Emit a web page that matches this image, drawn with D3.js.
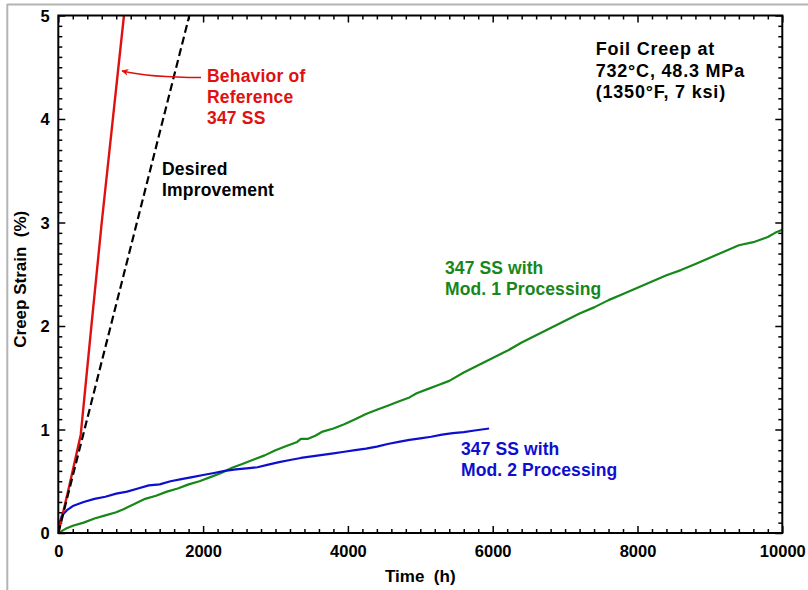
<!DOCTYPE html>
<html>
<head>
<meta charset="utf-8">
<script src="https://cdn.jsdelivr.net/npm/d3@7"></script>
<style>
  html, body { margin: 0; padding: 0; background: #fff; }
  svg { display: block; }
  text { font-family: "Liberation Sans", Arial, Helvetica, sans-serif; font-weight: bold; }
</style>
</head>
<body>
<svg id="chart" width="808" height="590"></svg>
<script>
// ---- Data ----
const referenceTime   = [0, 150, 310, 450, 600, 907];
const referenceStrain = [0, 0.45, 0.95, 1.95, 3.0, 5.0];

const desiredTime   = [0, 1810];
const desiredStrain = [0, 5.0];

const mod1Time = [0,100,200,350,500,650,800,900,1050,1200,1350,1500,1650,1800,1950,2100,2250,2400,2550,2700,2850,3000,3150,3300,3350,3450,3550,3650,3800,3950,4100,4250,4400,4550,4700,4850,4950,5100,5250,5400,5600,5800,6000,6200,6400,6600,6800,7000,7200,7400,7600,7800,8000,8200,8400,8600,8800,9000,9200,9400,9600,9800,9900,10000];
const mod1Strain = [0,0.04,0.07,0.10,0.14,0.17,0.20,0.23,0.28,0.33,0.36,0.40,0.43,0.47,0.50,0.54,0.58,0.63,0.67,0.71,0.75,0.80,0.84,0.88,0.91,0.91,0.94,0.98,1.01,1.05,1.10,1.15,1.19,1.23,1.27,1.31,1.35,1.39,1.43,1.47,1.55,1.62,1.69,1.76,1.84,1.91,1.98,2.05,2.12,2.18,2.25,2.31,2.37,2.43,2.49,2.54,2.60,2.66,2.72,2.78,2.81,2.86,2.90,2.93];

const mod2Time = [0,20,50,120,200,350,500,650,800,950,1100,1250,1400,1550,1700,1850,2000,2150,2300,2450,2600,2750,2900,3050,3200,3350,3500,3650,3800,3950,4100,4250,4400,4550,4700,4850,5000,5150,5300,5450,5600,5750,5950];
const mod2Strain = [0.02,0.10,0.17,0.22,0.26,0.30,0.33,0.35,0.38,0.40,0.43,0.46,0.47,0.50,0.52,0.54,0.56,0.58,0.60,0.615,0.625,0.635,0.66,0.685,0.705,0.725,0.74,0.755,0.77,0.785,0.80,0.815,0.835,0.86,0.88,0.90,0.915,0.93,0.95,0.965,0.975,0.99,1.01];

const xMajorTicks = [0, 2000, 4000, 6000, 8000, 10000];
const yMajorTicks = [0, 1, 2, 3, 4, 5];
const xTitle = "Time  (h)";
const yTitle = "Creep Strain  (%)";

// ---- Layout ----
const svg = d3.select("#chart");
const pLeft = 58.3, pRight = 782.3, pTop = 15.5, pBottom = 533;

const x = d3.scaleLinear().domain([0, 10000]).range([pLeft, pRight]);
const y = d3.scaleLinear().domain([0, 5]).range([pBottom, pTop]);

// grey page frame (top and left only)
svg.append("line").attr("x1", 7).attr("x2", 808).attr("y1", 4.5).attr("y2", 4.5)
  .attr("stroke", "#b4b4b4").attr("stroke-width", 2);
svg.append("line").attr("x1", 7.3).attr("x2", 7.3).attr("y1", 4).attr("y2", 590)
  .attr("stroke", "#b4b4b4").attr("stroke-width", 2);

const xMinor = d3.range(0, 10001, 200).filter(v => v % 2000 !== 0);
const yMinor = d3.range(0, 51, 1).map(v => v / 10).filter(v => Math.abs(v - Math.round(v)) > 1e-6);

function styleAxis(g) {
  g.select(".domain").remove();
  g.selectAll(".tick line").attr("stroke", "#000").attr("stroke-width", 1.5);
}

// minor ticks
svg.append("g").attr("transform", `translate(0,${pBottom})`)
  .call(d3.axisBottom(x).tickValues(xMinor).tickSize(-4).tickFormat(""))
  .call(styleAxis);
svg.append("g").attr("transform", `translate(0,${pTop})`)
  .call(d3.axisTop(x).tickValues(xMinor).tickSize(-4).tickFormat(""))
  .call(styleAxis);
svg.append("g").attr("transform", `translate(${pLeft},0)`)
  .call(d3.axisLeft(y).tickValues(yMinor).tickSize(-4).tickFormat(""))
  .call(styleAxis);
svg.append("g").attr("transform", `translate(${pRight},0)`)
  .call(d3.axisRight(y).tickValues(yMinor).tickSize(-4).tickFormat(""))
  .call(styleAxis);

// major ticks
const xb = svg.append("g").attr("transform", `translate(0,${pBottom})`)
  .call(d3.axisBottom(x).tickValues(xMajorTicks).tickSize(-7).tickPadding(0).tickFormat(d3.format("d")))
  .call(styleAxis);
xb.selectAll(".tick text").attr("y", 23.7).attr("dy", 0)
  .attr("fill", "#000").style("font-size", "16.5px").style("font-family", "Liberation Sans, Arial, sans-serif").style("font-weight", "bold");

svg.append("g").attr("transform", `translate(0,${pTop})`)
  .call(d3.axisTop(x).tickValues(xMajorTicks).tickSize(-7).tickFormat(""))
  .call(styleAxis);

const yl = svg.append("g").attr("transform", `translate(${pLeft},0)`)
  .call(d3.axisLeft(y).tickValues(yMajorTicks).tickSize(-7).tickFormat(d3.format("d")))
  .call(styleAxis);
yl.selectAll(".tick text").attr("x", -8.5).attr("dy", "0.36em")
  .attr("fill", "#000").style("font-size", "16.5px").style("font-family", "Liberation Sans, Arial, sans-serif").style("font-weight", "bold");

svg.append("g").attr("transform", `translate(${pRight},0)`)
  .call(d3.axisRight(y).tickValues(yMajorTicks).tickSize(-7).tickFormat(""))
  .call(styleAxis);

// clip
const defs = svg.append("defs");
defs.append("clipPath").attr("id", "plotclip")
  .append("rect").attr("x", pLeft).attr("y", pTop).attr("width", pRight - pLeft).attr("height", pBottom - pTop);

const line = d3.line().x(d => x(d[0])).y(d => y(d[1]));
const zipper = (a, b) => a.map((v, i) => [v, b[i]]);

const plot = svg.append("g").attr("clip-path", "url(#plotclip)");

plot.append("path").datum(zipper(mod1Time, mod1Strain))
  .attr("d", line).attr("fill", "none").attr("stroke", "#17871a").attr("stroke-width", 2.2)
  .attr("stroke-linejoin", "round");
plot.append("path").datum(zipper(mod2Time, mod2Strain))
  .attr("d", line).attr("fill", "none").attr("stroke", "#0e0ed0").attr("stroke-width", 2.2)
  .attr("stroke-linejoin", "round");
plot.append("path").datum(zipper(referenceTime, referenceStrain))
  .attr("d", line).attr("fill", "none").attr("stroke", "#e01010").attr("stroke-width", 2.4)
  .attr("stroke-linejoin", "round");
plot.append("path").datum(zipper(desiredTime, desiredStrain))
  .attr("d", line).attr("fill", "none").attr("stroke", "#000").attr("stroke-width", 2.2)
  .attr("stroke-dasharray", "8,4");

// frame
svg.append("rect").attr("x", pLeft).attr("y", pTop).attr("width", pRight - pLeft).attr("height", pBottom - pTop)
  .attr("fill", "none").attr("stroke", "#000").attr("stroke-width", 2);

// axis titles
svg.append("text").attr("x", (pLeft + pRight) / 2).attr("y", 581.7).attr("text-anchor", "middle")
  .style("font-size", "17px").style("white-space", "pre").attr("fill", "#000").text(xTitle);
svg.append("text").attr("transform", `translate(25.5,${(pTop + pBottom) / 2 + 5}) rotate(-90)`)
  .attr("text-anchor", "middle").style("font-size", "17px").style("white-space", "pre").attr("fill", "#000")
  .text(yTitle);

// annotations
function multi(lines, x0, y0, dy, color, size, ls) {
  const t = svg.append("text").attr("fill", color).style("font-size", size + "px");
  if (ls) t.style("letter-spacing", ls + "px");
  lines.forEach((s, i) => t.append("tspan").attr("x", x0).attr("y", y0 + i * dy).text(s));
}
multi(["Foil Creep at", "732\u00B0C, 48.3 MPa", "(1350\u00B0F, 7 ksi)"], 595.7, 55, 21.5, "#000", 18, 0.8);
multi(["Behavior of", "Reference", "347 SS"], 207, 82.3, 21, "#e01010", 17.5, 0.2);
multi(["Desired", "Improvement"], 162, 175, 20.5, "#000", 17.5, 0.2);
multi(["347 SS with", "Mod. 1 Processing"], 445, 274, 20.5, "#17871a", 17.5, 0.1);
multi(["347 SS with", "Mod. 2 Processing"], 461, 455, 21, "#0e0ed0", 17.5, 0.1);

// arrow toward reference curve
defs.append("marker").attr("id", "arrowhead")
  .attr("viewBox", "0 0 10 10").attr("refX", 9).attr("refY", 5)
  .attr("markerWidth", 7).attr("markerHeight", 7).attr("orient", "auto")
  .attr("markerUnits", "userSpaceOnUse")
  .append("path").attr("d", "M0,0 L10,5 L0,10 L3,5 Z").attr("fill", "#e01010");
svg.append("path")
  .attr("d", `M201,77.5 Q150,77.5 ${x(880)},71`)
  .attr("fill", "none").attr("stroke", "#e01010").attr("stroke-width", 1.5)
  .attr("marker-end", "url(#arrowhead)");
</script>
</body>
</html>
